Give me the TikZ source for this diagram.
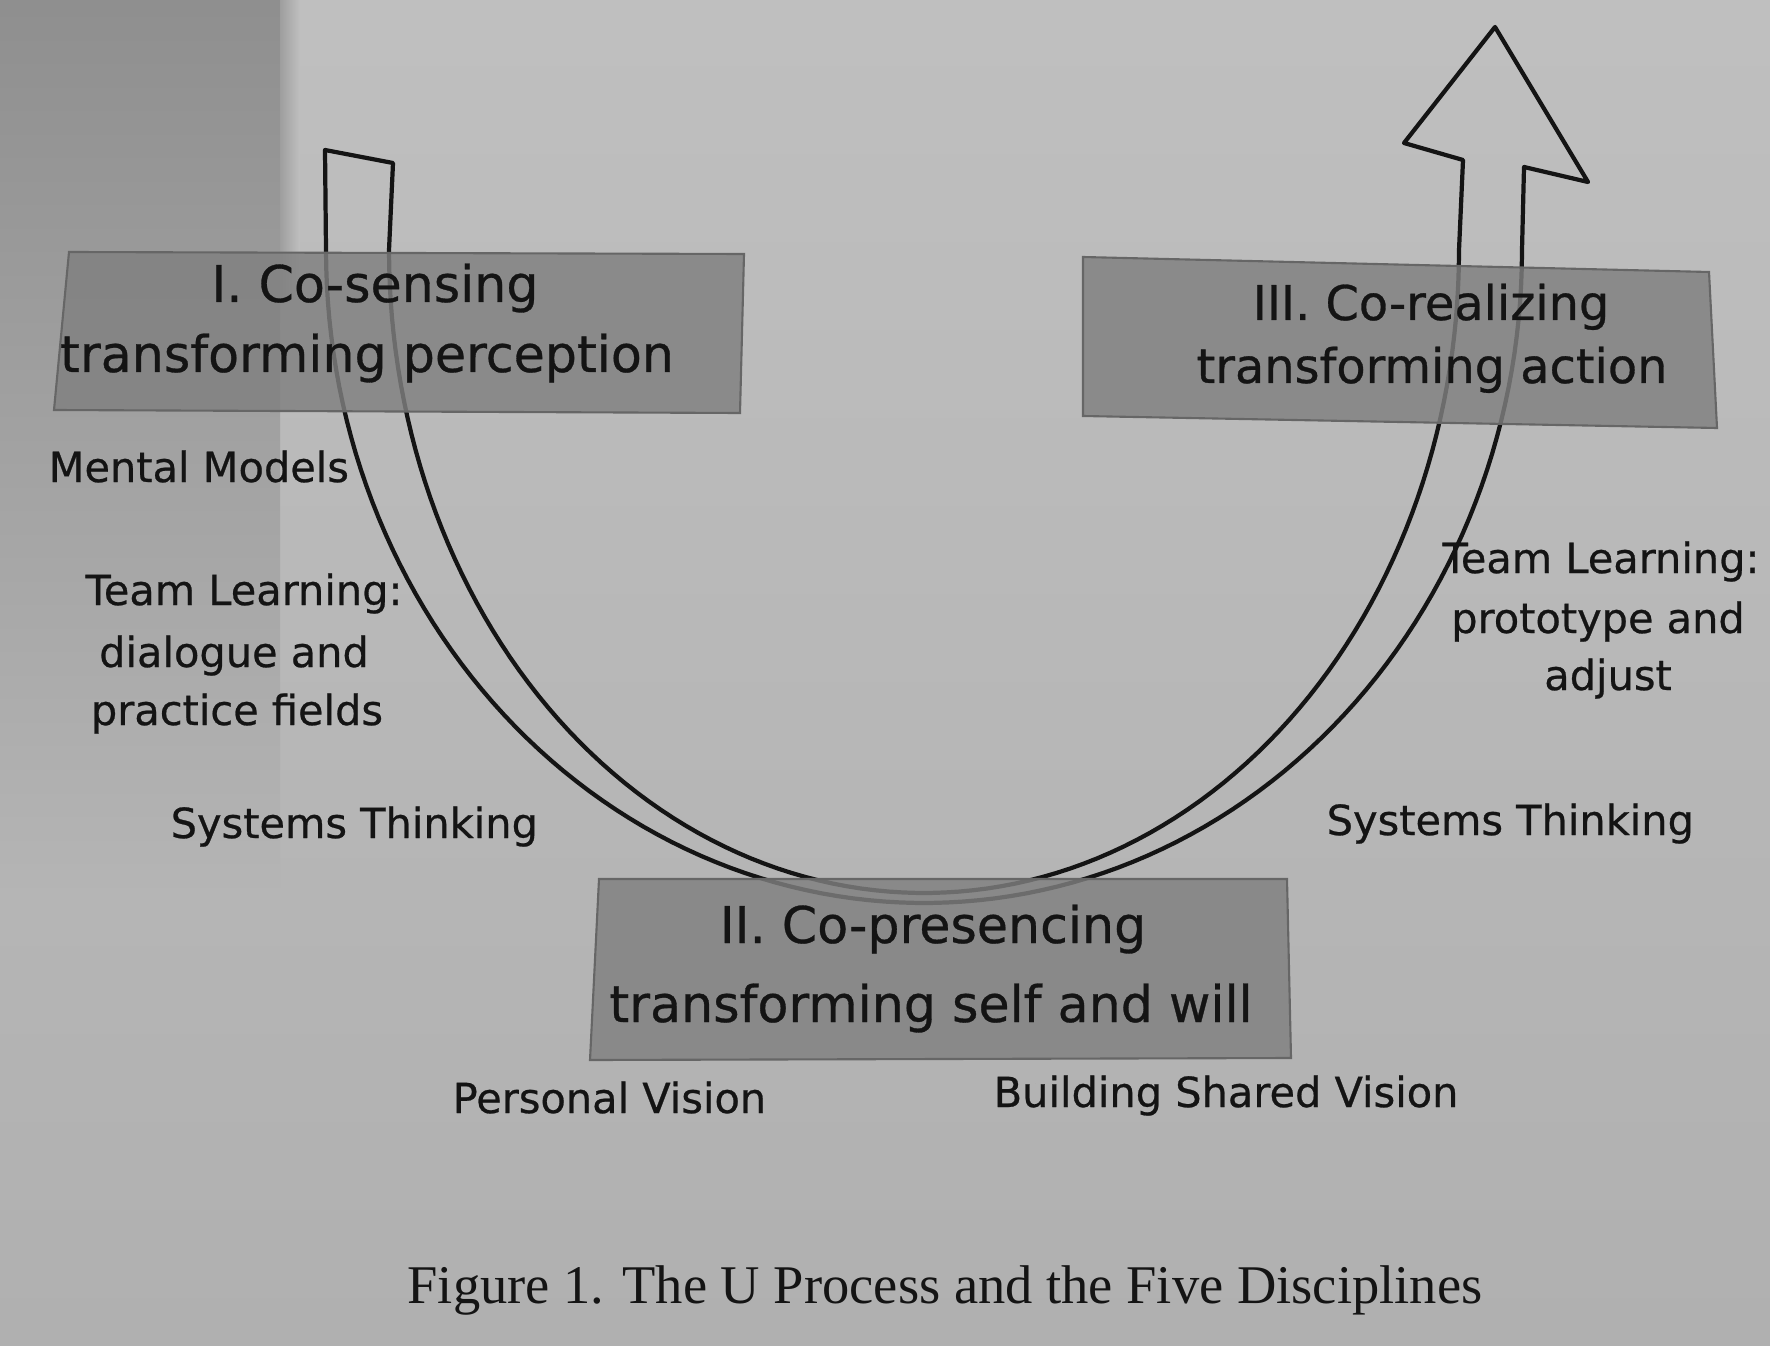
\documentclass[tikz,border=0pt]{standalone}
\usepackage{fontspec}
\setmainfont{DejaVu Sans}
\newfontfamily\labfont[FakeBold=0.6]{DejaVu Sans}
\newfontfamily\capfont{Liberation Serif}
\definecolor{bgtop}{gray}{0.75}
\definecolor{bgbot}{gray}{0.69}
\definecolor{bgmid}{gray}{0.71}
\definecolor{striptop}{gray}{0.56}
\definecolor{boxcol}{gray}{0.50}
\definecolor{boxedge}{gray}{0.40}
\definecolor{inkcol}{gray}{0.08}
\tikzset{
  uline/.style={draw=inkcol, line width=1.2pt, line join=round},
  boxshape/.style={fill=boxcol, fill opacity=0.82, draw=boxedge, line width=0.6pt},
  boxtext/.style={inner sep=0pt, text=inkcol, font=\labfont\fontsize{14.4}{17}\selectfont},
  boxtextiii/.style={boxtext, font=\labfont\fontsize{13.6}{17}\selectfont},
  sidetext/.style={inner sep=0pt, text=inkcol, font=\labfont\fontsize{11.8}{14}\selectfont},
  captext/.style={inner sep=0pt, text=inkcol, font=\capfont\fontsize{15.5}{18}\selectfont}
}
\begin{document}
\begin{tikzpicture}[x=0.01cm, y=-0.01cm]
\useasboundingbox (0,0) rectangle (1770,1346);
% background
\shade[top color=bgtop, bottom color=bgbot] (0,0) rectangle (1770,1346);
\shade[top color=striptop, bottom color=bgmid] (0,0) rectangle (280,900);
\shade[left color=striptop!60!bgmid, right color=bgtop] (280,0) rectangle (300,300);
% U arrow
\draw[uline] (325,150) -- (326,250)
  -- plot[domain=180:360, samples=120] ({924+598*cos(\x)},{250-653*sin(\x)})
  -- (1524,167) -- (1588,182) -- (1495,27) -- (1404,143) -- (1463,160) -- (1459,250)
  -- plot[domain=360:180, samples=120] ({924+535*cos(\x)},{250-643*sin(\x)})
  -- (393,163) -- cycle;
% boxes
\path[boxshape] (69,252) -- (744,254) -- (740,413) -- (54,410) -- cycle;
\path[boxshape] (1083,257) -- (1709,272) -- (1717,428) -- (1083,416) -- cycle;
\path[boxshape] (599,879) -- (1287,879) -- (1291,1058) -- (590,1060) -- cycle;
% box texts
\node[boxtext, anchor=base] (b1a) at (375,302) {I. Co-sensing};
\node[boxtext, anchor=base] (b1b) at (367,372) {transforming perception};
\node[boxtextiii, anchor=base] (b3a) at (1431,320) {III. Co-realizing};
\node[boxtextiii, anchor=base] (b3b) at (1432,383) {transforming action};
\node[boxtext, anchor=base] (b2a) at (933,943) {II. Co-presencing};
\node[boxtext, anchor=base] (b2b) at (931,1022) {transforming self and will};
% side labels
\node[sidetext, anchor=base west] (mm) at (48,482) {Mental Models};
\node[sidetext, anchor=base] (tl1) at (244,605) {Team Learning:};
\node[sidetext, anchor=base] (tl2) at (234,667) {dialogue and};
\node[sidetext, anchor=base] (tl3) at (237,725) {practice fields};
\node[sidetext, anchor=base west] (st1) at (170,838) {Systems Thinking};
\node[sidetext, anchor=base] (tr1) at (1601,573) {Team Learning:};
\node[sidetext, anchor=base] (tr2) at (1598,633) {prototype and};
\node[sidetext, anchor=base] (tr3) at (1608,690) {adjust};
\node[sidetext, anchor=base west] (st2) at (1326,835) {Systems Thinking};
\node[sidetext, anchor=base west] (pv) at (452,1113) {Personal Vision};
\node[sidetext, anchor=base west] (bsv) at (993,1107) {Building Shared Vision};
% caption
\node[captext, anchor=base] (cap) at (945,1303) {Figure 1. The U Process and the Five Disciplines};
\end{tikzpicture}
\end{document}
